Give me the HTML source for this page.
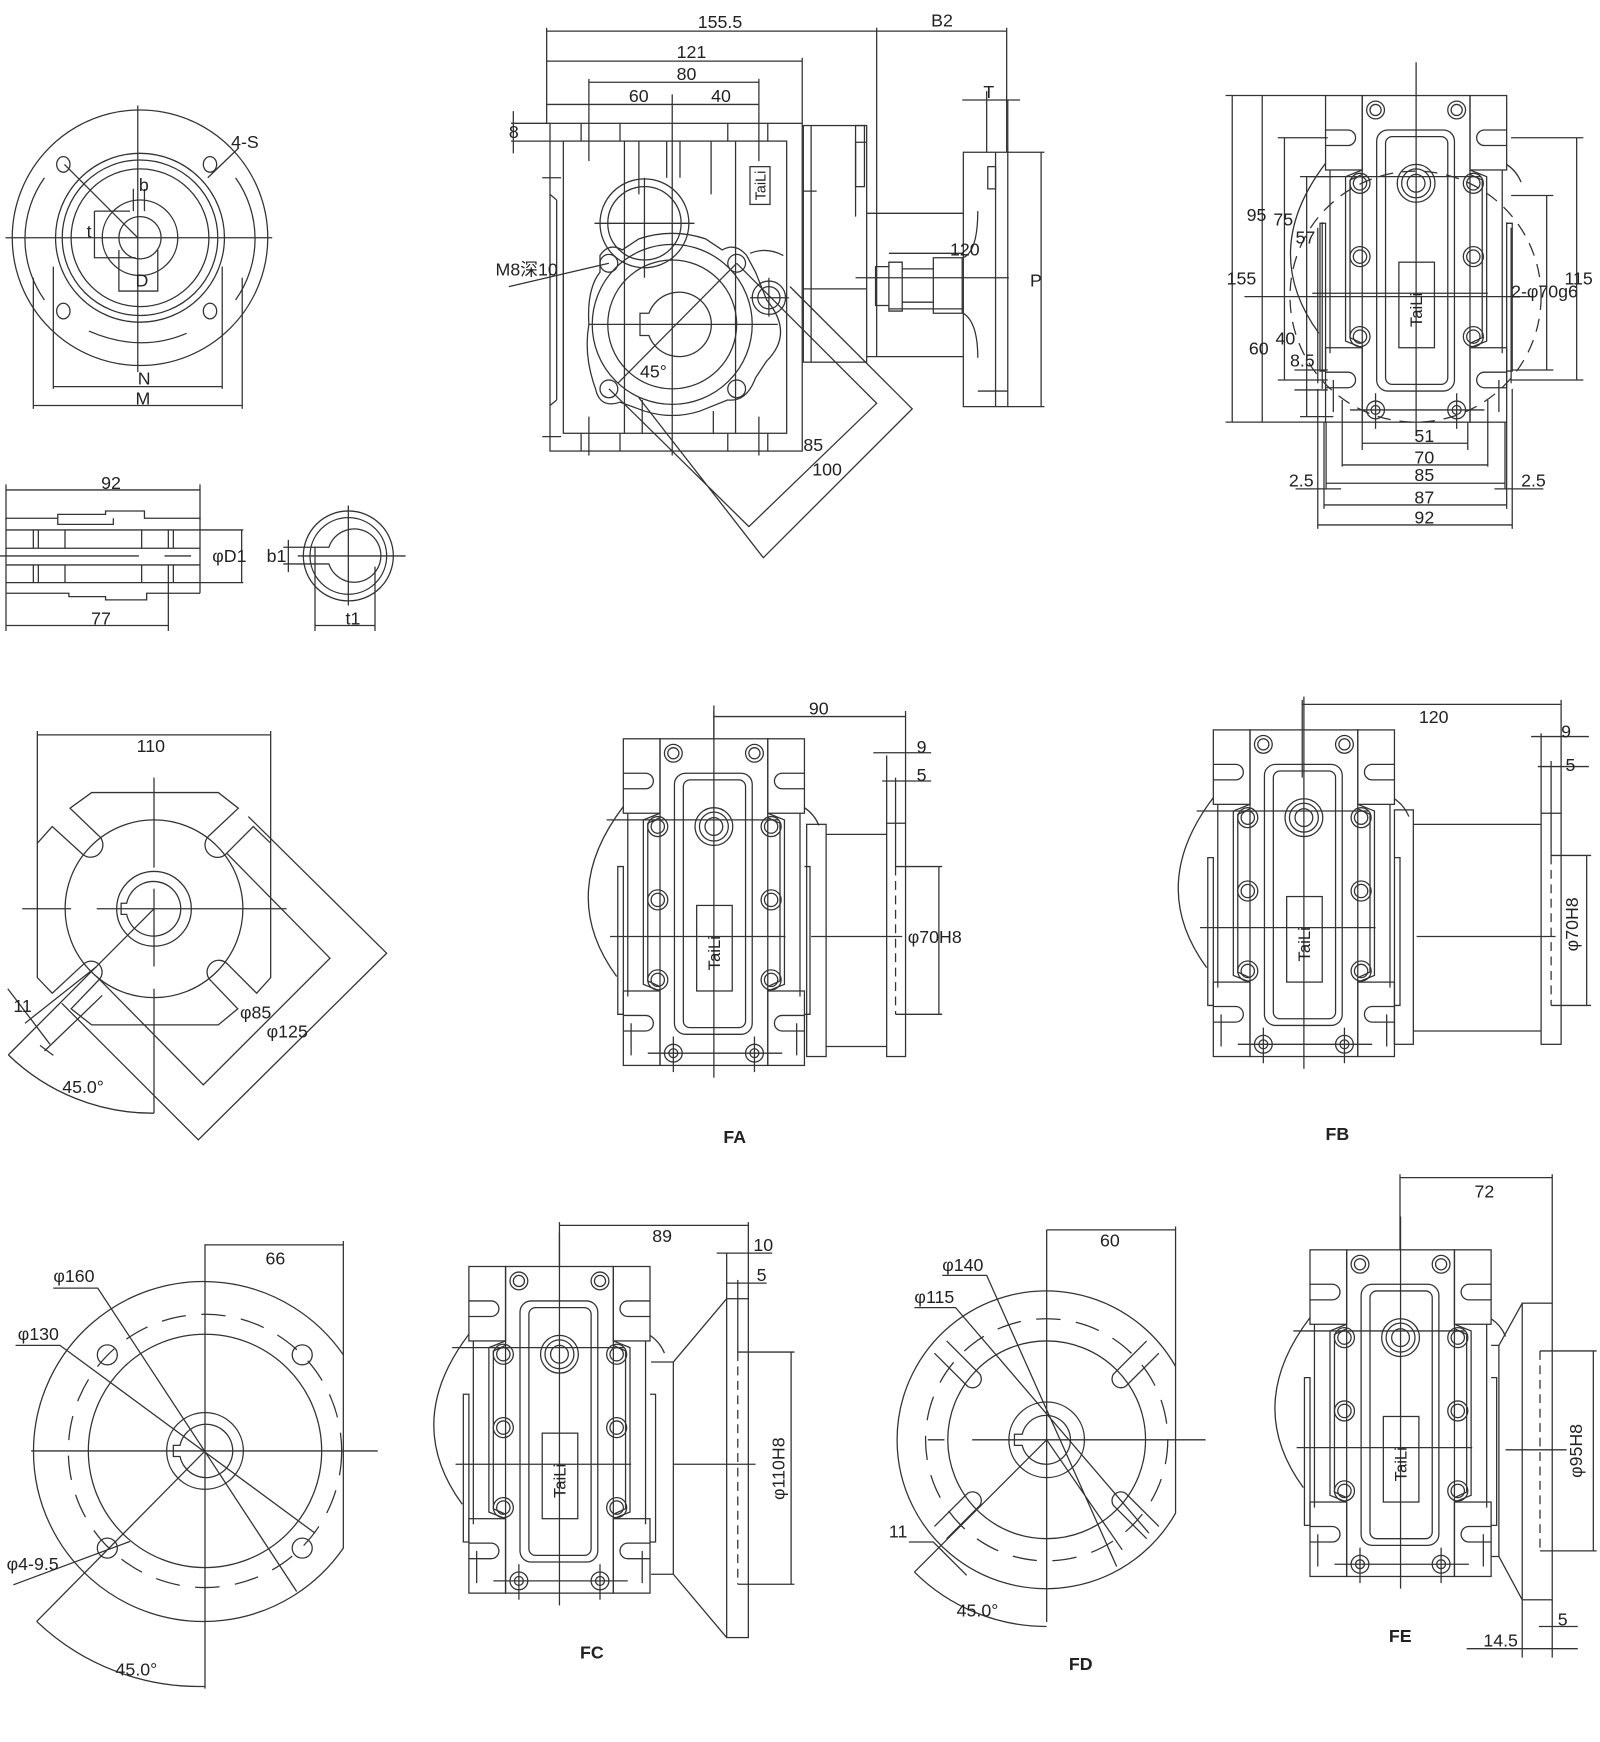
<!DOCTYPE html>
<html><head><meta charset="utf-8"><style>
html,body{margin:0;padding:0;background:#fff}
svg{display:block}
text{font-family:"Liberation Sans","Noto Sans CJK SC",sans-serif;font-size:16px;fill:#222}
.b{font-weight:bold;font-size:16px}
</style></head><body>
<svg width="1600" height="1742" viewBox="0 0 1440 1568" preserveAspectRatio="none" xmlns="http://www.w3.org/2000/svg">
<defs>
<g id="gb" fill="none" stroke="#333" stroke-width="1.15">
 <rect x="0" y="0" width="33" height="67"/>
 <rect x="130" y="0" width="33" height="67"/>
 <rect x="0" y="227" width="33" height="67"/>
 <rect x="130" y="227" width="33" height="67"/>
 <rect x="33" y="0" width="97" height="294"/>
 <path d="M33,67 L18,73 V221 L33,227 M130,67 L145,73 V221 L130,227"/>
 <path d="M33,71 L22,76 V218 L33,223 M130,71 L141,76 V218 L130,223"/>
 <path d="M4,67 V232 M159,67 V232 M-5,115 H0 V248 H-5Z M163,115 H168 V248 H163"/>
 <rect x="46" y="31" width="70" height="235" rx="10"/>
 <rect x="54" y="37" width="56" height="223" rx="6"/>
 <path d="M0,31 H20 A7,7 0 0 1 20,45 H0 M163,31 H143 A7,7 0 0 0 143,45 H163"/>
 <path d="M0,249 H20 A7,7 0 0 1 20,263 H0 M163,249 H143 A7,7 0 0 0 143,263 H163"/>
 <circle cx="45" cy="13" r="8"/><circle cx="45" cy="13" r="5"/>
 <circle cx="118" cy="13" r="8"/><circle cx="118" cy="13" r="5"/>
 <circle cx="45" cy="283" r="8"/><circle cx="45" cy="283" r="4"/>
 <circle cx="118" cy="283" r="8"/><circle cx="118" cy="283" r="4"/>
 <circle cx="31" cy="79" r="9"/><circle cx="31" cy="79" r="6"/>
 <circle cx="133" cy="79" r="9"/><circle cx="133" cy="79" r="6"/>
 <circle cx="31" cy="145" r="9"/><circle cx="31" cy="145" r="6"/>
 <circle cx="133" cy="145" r="9"/><circle cx="133" cy="145" r="6"/>
 <circle cx="31" cy="217" r="9"/><circle cx="31" cy="217" r="6"/>
 <circle cx="133" cy="217" r="9"/><circle cx="133" cy="217" r="6"/>
 <circle cx="81.5" cy="79" r="17"/><circle cx="81.5" cy="79" r="13"/><circle cx="81.5" cy="79" r="8"/>
 <rect x="66" y="150" width="32" height="77"/>
 <path d="M0,61 Q-60,140 -6,214 M163,62 Q172,68 176,78"/>
 <path d="M81.5,-30 V305 M-15,73 H140 M-12,178 H146 M22,283 H143 M45,268 V300 M118,268 V300 M7,256 V285 M156,256 V285"/>
</g>
</defs>
<g fill="none" stroke="#333" stroke-width="1.15">

<!-- Top-left flange view -->
<circle cx="126" cy="214" r="115"/>
<path d="M40,160 A95,95 0 0 0 40,270 M212,160 A95,95 0 0 1 212,270"/>
<circle cx="126" cy="214" r="76"/>
<circle cx="126" cy="214" r="70"/>
<circle cx="126" cy="214" r="62"/>
<circle cx="126" cy="214" r="34"/>
<circle cx="126" cy="214" r="19"/>
<path d="M80,298 Q126,318 168,300"/>
<ellipse cx="57" cy="148" rx="6" ry="7"/><ellipse cx="189" cy="148" rx="6" ry="7"/>
<ellipse cx="57" cy="280" rx="6" ry="7"/><ellipse cx="189" cy="280" rx="6" ry="7"/>
<path d="M5,214 H245 M124,95 V335 M58,148 L124,214 M187,160 L215,133"/>
<path d="M120,170 V190 M130,170 V190 M85,190 H117 M85,190 V232 H122 M107,225 V262 H142 V225"/>
<path d="M48,240 V350 M200,240 V350 M48,348 H200 M30,250 V368 M218,250 V368 M30,365 H218"/>

<!-- Shaft side view -->
<path d="M5.4,441 H180 M5.4,436 V468 M180,436 V468"/>
<path d="M5.4,466.5 H52 V463 H95 V460 H130 V466.5 H180 M52,466.5 V472 H102 V466.5"/>
<path d="M5.4,534 H62 V537 H95 V540 H132 V534 H180"/>
<path d="M5.4,477 H180 M5.4,493.5 H180 M5.4,508.5 H180 M5.4,524.4 H180 M5.4,466.5 V534 M180,466.5 V534"/>
<path d="M0,500.4 H125 M148,500.4 H172"/>
<path d="M30,477 V493.5 M34.5,477 V493.5 M30,508.5 V524.4 M34.5,508.5 V524.4 M58.5,477 V493.5 M127.5,477 V493.5 M58.5,508.5 V524.4 M127.5,508.5 V524.4 M151.5,477 V493.5 M156,477 V493.5 M151.5,508.5 V524.4 M156,508.5 V524.4"/>
<path d="M5.4,563 H151.5 M5.4,534 V568 M151.5,524 V568"/>
<path d="M180,477 H219 M180,524.4 H219 M217.5,477 V524.4"/>
<circle cx="313.5" cy="500.4" r="40.5"/><circle cx="313.5" cy="500.4" r="34.5"/>
<path d="M283.5,492.6 H296 A24,24 0 1 1 296,507.6 H283.5 Z"/>
<path d="M268,500.4 H365 M313.5,455 V545 M259.5,486 V515 M255,492.6 H284 M255,507.6 H284 M283.5,507 V568 M337.5,510 V568 M283.5,563 H337.5"/>

<!-- Main top-centre view -->
<rect x="495" y="111" width="227" height="295"/>
<rect x="507" y="127" width="201" height="263"/>
<path d="M523,111 V127 M558,111 V127 M655,111 V127 M691,111 V127 M523,390 V406 M558,390 V406 M655,390 V406 M691,390 V406"/>
<path d="M530,100 V145 M683,100 V145 M530,375 V410 M683,375 V410 M488,160 H505 M488,393 H505"/>
<path d="M562,127 V390 M575,127 V175 M640,127 V175 M600,127 V160 M612,127 V160 M662,127 V390 M578,360 V390 M642,370 V390"/>
<path d="M501,180 V360 M507,180 V360 M495,175 L501,180 M495,365 L501,360"/>
<circle cx="580" cy="201" r="40"/><circle cx="580" cy="201" r="33"/>
<path d="M535,201 H625 M580,160 V250"/>
<path d="M540,230 Q548,218 560,225 L575,215 Q605,205 635,215 L650,225 Q662,218 672,230 L680,245 L690,270 Q715,300 690,325 L680,340 Q672,362 655,360 L630,370 Q605,378 580,370 L558,362 Q540,368 536,350 Q525,320 530,292 Q528,260 540,245 Z"/>
<circle cx="605" cy="292" r="72"/><circle cx="605" cy="292" r="58"/>
<path d="M576,282 H584 A29,29 0 1 1 584,302 H576 Z"/>
<circle cx="548" cy="237" r="8"/><circle cx="663" cy="237" r="8"/><circle cx="548" cy="350" r="8"/><circle cx="663" cy="350" r="8"/>
<circle cx="692" cy="268" r="15"/><circle cx="692" cy="268" r="10"/>
<path d="M675,268 H710 M692,250 V285 M675,228 Q690,222 705,230"/>
<rect x="675" y="150" width="18" height="34"/>
<path d="M530,292 H700 M605,85 V410 M556,345 L663,237"/>
<path d="M548,350 L674,474 L789,363 L663,237 M575,358 L687,502 L821,368 L711,258"/>
<path d="M458,258 L548,237"/>
<rect x="723" y="113" width="57" height="213"/>
<path d="M730,113 V326 M780,128 H770 V195 M723,172 H735 M723,260 H780"/>
<rect x="770" y="113" width="8" height="55"/>
<path d="M780,192 H867 M780,321 H867 M789,192 V321 M800,228 H867 M800,278 H867"/>
<path d="M788,240 H800 V275 H788 Z M800,236 H812 V280 H800 Z M812,242 H840 V272 H812 Z M840,232 L866,232 L866,282 L840,282 Z"/>
<path d="M867,137 H907 V366 H867 Z M896,137 V366 M880,190 Q880,226 867,232 M880,322 Q880,290 867,282"/>
<rect x="889" y="150" width="7" height="20"/>
<path d="M770,250 H908 M880,352 H907"/>
<path d="M492,28 H906 M492,25 V111 M789,25 V192 M906,25 V137"/>
<path d="M492,55 H722 M722,52 V111"/>
<path d="M530,74 H683 M530,71 V100 M683,71 V100"/>
<path d="M492,94 H683"/>
<path d="M460,111 H495 M460,127 H507 M462,100 V138"/>
<path d="M866,90 H918 M888,82 V137 M907,90 V137"/>
<path d="M907,137 H940 M907,366 H940 M937,137 V366"/>

<!-- Top-right view -->
<use href="#gb" x="1193" y="86"/>
<circle cx="1274" cy="267" r="113" stroke-dasharray="12,8"/>
<path d="M1356,200 V350 M1360,205 V345 M1190,200 V350 M1186,205 V345"/>
<path d="M1109,86 V380 M1136,86 V380 M1103,86 H1193 M1103,380 H1193"/>
<path d="M1156,124 V342 M1150,124 H1195 M1150,342 H1195 M1176,159 V375 M1170,159 H1200 M1170,375 H1200"/>
<path d="M1165,333 H1195 M1165,351 H1195 M1120,267 H1380"/>
<path d="M1419,124 V342 M1360,124 H1425 M1360,342 H1425 M1392,176 V333 M1360,176 H1398 M1360,333 H1398"/>
<path d="M1226,380 V405 M1321,380 V405 M1226,399 H1321 M1208,360 V420 M1339,360 V420 M1208,418.5 H1339"/>
<path d="M1193.5,380 V440 M1354.5,380 V440 M1193.5,435 H1354.5 M1191.6,380 V458 M1356,380 V458 M1191.6,454.5 H1356 M1186,350 V476 M1361,350 V476 M1186,472.5 H1361"/>
<path d="M1166,440 H1207 M1345,440 H1389"/>

<!-- Middle-left plate view -->
<path d="M82.5,713.4 H196.5 L214.5,727.5 L189,751.5 A9,9 0 0 0 202.5,769.5 L228,744 L243.6,759 V880 L231,894 L205,868 A9,9 0 0 0 189,882 L214,908 L196.5,922.5 H82.5 L64,908 L89,882 A9,9 0 0 0 75,868 L47,894 L33.6,880 V759 L47,744 L75,769.5 A9,9 0 0 0 88,751.5 L63,727.5 Z"/>
<circle cx="138.6" cy="818" r="80"/>
<circle cx="138.6" cy="818" r="33.6"/>
<path d="M109,813 H114 A24.6,24.6 0 1 1 114,823 H109 Z"/>
<path d="M20,818 H64 M87,818 H258 M138.6,700 V781 M138.6,800 V870 M138.6,890 V1002"/>
<path d="M33.6,661.5 H243.6 M33.6,658 V759 M243.6,658 V759"/>
<path d="M204,768 L297,862.5 L183,976.5 L87,879 M223.5,735 L348,858 L178.5,1026 L55.5,903"/>
<path d="M138.6,818 L7.5,949.5 M7.5,949.5 A186,186 0 0 0 138.6,1002"/>
<path d="M22.5,921 L87,870 M40,946 L92,896 M7,890 L45,940 M36,941 L48,950"/>

<!-- FA -->
<use href="#gb" x="561" y="665"/>
<rect x="726" y="742" width="17.5" height="209"/>
<path d="M743.5,751 H798 M743.5,942 H798"/>
<rect x="798" y="741" width="17" height="210"/>
<path d="M806,780 V913" stroke-dasharray="8,5"/>
<path d="M730,843 H812"/>
<path d="M642.5,645 H815 M642.5,640 V665 M815,640 V741"/>
<path d="M786,677.6 H838 M794,703 H838 M798,680 V741 M806,700 V780"/>
<path d="M806,780 H848 M806,913 H848 M845,780 V913"/>

<!-- FB -->
<use href="#gb" x="1092" y="657"/>
<rect x="1255" y="729" width="17" height="211"/>
<path d="M1272,742 H1387 M1272,928 H1387"/>
<rect x="1387" y="732" width="18" height="208"/>
<path d="M1396,770 V905" stroke-dasharray="8,5"/>
<path d="M1172,634 H1405 M1172,630 V700 M1405,630 V732"/>
<path d="M1378,663 H1430 M1384,690 H1430 M1387,660 V732 M1396,685 V770"/>
<path d="M1396,770 H1432 M1396,905 H1432 M1428,770 V905 M1275,843 H1400"/>

<!-- Bottom-left flange -->
<path d="M309,1219.5 A153,153 0 1 0 309,1393.5 Z"/>
<circle cx="184.5" cy="1306" r="105"/>
<circle cx="184.5" cy="1306" r="123" stroke-dasharray="22,14"/>
<circle cx="184.5" cy="1306" r="34.5"/>
<path d="M156,1301 H162 A24,24 0 1 1 162,1311 H156 Z"/>
<circle cx="96.6" cy="1219.5" r="9"/><circle cx="272" cy="1219.5" r="9"/>
<circle cx="96.6" cy="1393.5" r="9"/><circle cx="272" cy="1393.5" r="9"/>
<path d="M28,1306 H340 M184.5,1120 V1520"/>
<path d="M184.5,1120.5 H309 M309,1117 V1219.5"/>
<path d="M48,1159.5 H88 L267,1432.5 M14,1211 H54 L283.5,1380"/>
<path d="M12,1426.5 L117,1387.5 M184.5,1306 L33,1459.5 M33,1459.5 A212,212 0 0 0 184.5,1518"/>

<!-- FC -->
<use href="#gb" x="422" y="1140"/>
<path d="M586,1226 H606 V1417 H586"/>
<path d="M606,1226 L654,1169 M606,1417 L654,1474"/>
<rect x="654" y="1169" width="19.5" height="305"/>
<path d="M664,1217 V1426" stroke-dasharray="8,5"/>
<path d="M606,1318 H680"/>
<path d="M503.5,1103 H673.5 M673.5,1100 V1169 M503.5,1100 V1140"/>
<path d="M645,1128 H695 M654,1128 V1169 M654,1155 H690 M664,1152 V1217"/>
<path d="M664,1217 H715 M664,1426 H715 M712,1217 V1426"/>

<!-- FD -->
<path d="M1058,1230 A134,134 0 1 0 1058,1362 Z"/>
<circle cx="942" cy="1296" r="89"/>
<circle cx="942" cy="1296" r="109" stroke-dasharray="22,14"/>
<circle cx="942" cy="1296" r="34"/>
<path d="M913,1291 H920 A22,22 0 1 1 920,1301 H913 Z"/>
<path d="M852,1207 L882,1237 A8,8 0 0 1 871,1248 L841,1218 M1032,1207 L1002,1237 A8,8 0 0 0 1013,1248 L1043,1218 M852,1385 L882,1355 A8,8 0 0 0 871,1344 L841,1374 M1032,1385 L1002,1355 A8,8 0 0 1 1013,1344 L1043,1374"/>
<path d="M875,1296 H1085 M942,1107 V1460 M835,1296 H850"/>
<path d="M942,1107 H1058 M1058,1104 V1230"/>
<path d="M848,1148 H888 L1005,1410 M823,1177 H860 L1034,1380 M942,1296 L1010,1395"/>
<path d="M818,1388 H840 L870,1418 M942,1296 L823,1415 M823,1415 A168,168 0 0 0 942,1464"/>

<!-- FE -->
<use href="#gb" x="1179" y="1125"/>
<path d="M1342,1211 H1349 V1401 H1342"/>
<path d="M1349,1211 L1370,1173 M1349,1401 L1370,1440"/>
<rect x="1370" y="1173" width="27" height="267"/>
<path d="M1386,1216 V1396" stroke-dasharray="8,5"/>
<path d="M1260,1060 H1397 M1397,1057 V1173 M1260,1057 V1125"/>
<path d="M1386,1216 H1437 M1386,1396 H1437 M1434,1216 V1396 M1355,1305 H1410"/>
<path d="M1370,1440 V1492 M1397,1440 V1492 M1385,1464 H1420 M1320,1484 H1420"/>
</g>

<!-- Text -->
<g>
<text x="208" y="133">4-S</text>
<text x="125" y="172">b</text>
<text x="78" y="214">t</text>
<text x="122" y="258">D</text>
<text x="124" y="346">N</text>
<text x="122" y="364">M</text>
<text x="91" y="440">92</text>
<text x="82" y="562">77</text>
<text x="191" y="506">φD1</text>
<text x="240" y="506">b1</text>
<text x="311" y="562">t1</text>

<text x="628" y="25">155.5</text>
<text x="838" y="24">B2</text>
<text x="609" y="52">121</text>
<text x="609" y="72">80</text>
<text x="566" y="92">60</text>
<text x="640" y="92">40</text>
<text x="458" y="124">8</text>
<text x="885" y="88">T</text>
<text x="446" y="248">M8深10</text>
<text x="855" y="230">120</text>
<text x="927" y="258">P</text>
<text x="576" y="340">45°</text>
<text x="723" y="406">85</text>
<text x="731" y="428">100</text>
<text transform="translate(689,167) rotate(-90)" text-anchor="middle" style="font-size:13px">TaiLi</text>

<text x="1122" y="199">95</text>
<text x="1146" y="203">75</text>
<text x="1166" y="219">57</text>
<text x="1104" y="256">155</text>
<text x="1124" y="319">60</text>
<text x="1148" y="310">40</text>
<text x="1161" y="330">8.5</text>
<text x="1408" y="256">115</text>
<text x="1360" y="268">2-φ70g6</text>
<text x="1273" y="398">51</text>
<text x="1273" y="417">70</text>
<text x="1273" y="433">85</text>
<text x="1273" y="453">87</text>
<text x="1273" y="471">92</text>
<text x="1160" y="438">2.5</text>
<text x="1369" y="438">2.5</text>

<text x="123" y="677">110</text>
<text x="12" y="911">11</text>
<text x="216" y="917">φ85</text>
<text x="240" y="934">φ125</text>
<text x="56" y="984">45.0°</text>

<text x="728" y="643">90</text>
<text x="825" y="678">9</text>
<text x="825" y="703">5</text>
<text x="817" y="849">φ70H8</text>
<text x="651" y="1029" class="b">FA</text>

<text x="1277" y="651">120</text>
<text x="1405" y="664">9</text>
<text x="1409" y="694">5</text>
<text transform="translate(1420,832) rotate(-90)" text-anchor="middle">φ70H8</text>
<text x="1193" y="1026" class="b">FB</text>

<text x="48" y="1154">φ160</text>
<text x="16" y="1206">φ130</text>
<text x="239" y="1138">66</text>
<text x="6" y="1413">φ4-9.5</text>
<text x="104" y="1508">45.0°</text>

<text x="587" y="1118">89</text>
<text x="678" y="1126">10</text>
<text x="681" y="1153">5</text>
<text transform="translate(706,1322) rotate(-90)" text-anchor="middle">φ110H8</text>
<text x="522" y="1493" class="b">FC</text>

<text x="990" y="1122">60</text>
<text x="848" y="1144">φ140</text>
<text x="823" y="1173">φ115</text>
<text x="800" y="1384">11</text>
<text x="861" y="1455">45.0°</text>
<text x="962" y="1503" class="b">FD</text>

<text x="1327" y="1078">72</text>
<text transform="translate(1424,1306) rotate(-90)" text-anchor="middle">φ95H8</text>
<text x="1402" y="1463">5</text>
<text x="1335" y="1482">14.5</text>
<text x="1250" y="1478" class="b">FE</text>

<text transform="translate(648,858) rotate(-90)" text-anchor="middle" style="font-size:15px">TaiLi</text>
<text transform="translate(1179,850) rotate(-90)" text-anchor="middle" style="font-size:15px">TaiLi</text>
<text transform="translate(1280,279) rotate(-90)" text-anchor="middle" style="font-size:15px">TaiLi</text>
<text transform="translate(509,1333) rotate(-90)" text-anchor="middle" style="font-size:15px">TaiLi</text>
<text transform="translate(1266,1318) rotate(-90)" text-anchor="middle" style="font-size:15px">TaiLi</text>
</g>
</svg>
</body></html>
